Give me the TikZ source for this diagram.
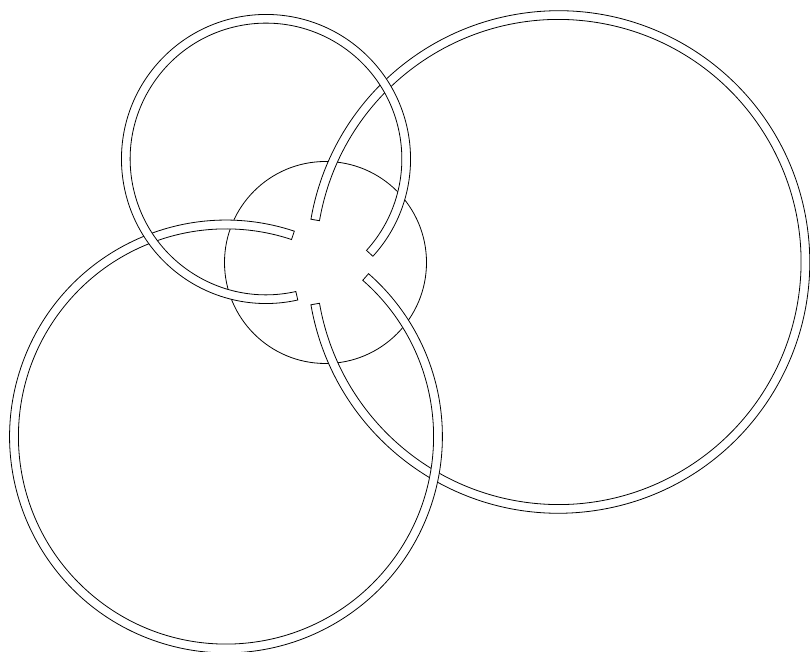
\documentclass[tikz,border=0pt]{standalone}
\usetikzlibrary{calc}
\newcommand\ringband[5]{%
  \draw[band] ([shift={(#1)}]#2:{#4+#5}) arc[start angle=#2, end angle=#3, radius={#4+#5}]
    -- ([shift={(#1)}]#3:{#4-#5}) arc[start angle=#3, end angle=#2, radius={#4-#5}] -- cycle;}
\begin{document}
\begin{tikzpicture}[x=1pt,y=1pt,
  thin line/.style={line width=0.8pt, black},
  band/.style={thin line, fill=white, line join=miter}]
\useasboundingbox (0,0) rectangle (810,652);
\coordinate (C) at (325.5,389.5);
\coordinate (c1) at (266,493);
\coordinate (c2) at (558.5,390);
\coordinate (c3) at (226,215.5);
\draw[thin line] (C) circle[radius=101];
\ringband{c2}{-170.2}{170.2}{246.9}{4.35}
\ringband{c3}{71.6}{408.8}{212}{4.4}
\ringband{c1}{-42.3}{282.7}{140.2}{4.35}
\end{tikzpicture}
\end{document}
